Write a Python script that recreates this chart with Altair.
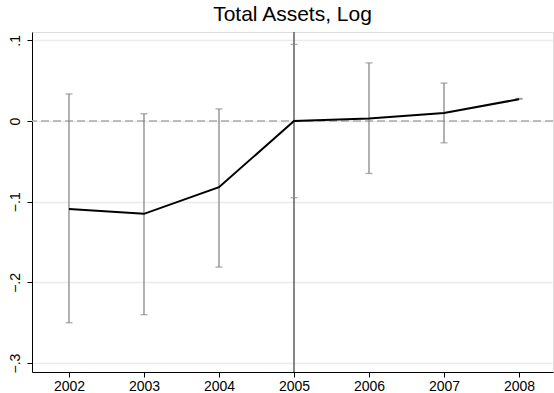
import altair as alt
import pandas as pd

# Event-study estimates for log total assets, with confidence bounds
years = [2002, 2003, 2004, 2005, 2006, 2007, 2008]
coef = [-0.109, -0.115, -0.082, 0.0, 0.003, 0.010, 0.027]
ci_low = [-0.250, -0.240, -0.181, -0.095, -0.065, -0.027, 0.027]
ci_high = [0.0335, 0.009, 0.015, 0.095, 0.072, 0.047, 0.028]
y_ticks = [-0.3, -0.2, -0.1, 0.0, 0.1]
event_year = 2005

df = pd.DataFrame({"year": years, "coef": coef, "lo": ci_low, "hi": ci_high})

FONT = "Liberation Sans"
x_scale = alt.Scale(domain=[2001.507, 2008.453], nice=False, zero=False)
y_scale = alt.Scale(domain=[-0.311, 0.1103], nice=False, zero=False)

x_axis = alt.Axis(values=years, format="d", title=None, grid=False,
                  domainColor="black", tickColor="black", tickSize=5,
                  labelFontSize=14, labelFont=FONT, labelColor="black",
                  labelPadding=2, labelFlush=False)
y_axis = alt.Axis(values=y_ticks, title=None, grid=True, gridColor="#ebebeb",
                  gridWidth=1.5, domainColor="black", tickColor="black",
                  tickSize=5, labelFontSize=14, labelFont=FONT,
                  labelColor="black", labelAngle=270, labelAlign="center",
                  labelBaseline="bottom", labelPadding=5,
                  labelExpr="datum.value == 0 ? '0' : replace(format(datum.value, '.1f'), '0.', '.')")

base = alt.Chart(df)

# empty layer carrying the axes
axes = base.mark_point(opacity=0).encode(
    x=alt.X("year:Q", scale=x_scale, axis=x_axis),
    y=alt.Y("coef:Q", scale=y_scale, axis=y_axis),
)

zero_line = alt.Chart(pd.DataFrame({"y": [0.0]})).mark_rule(
    color="#aaaaaa", strokeWidth=1.5, strokeDash=[8, 4]
).encode(y=alt.Y("y:Q", scale=y_scale))

event_line = alt.Chart(pd.DataFrame({"x": [event_year]})).mark_rule(
    color="#444444", strokeWidth=1.3
).encode(x=alt.X("x:Q", scale=x_scale))

bars = base.mark_rule(color="#888888", strokeWidth=1.3).encode(
    x=alt.X("year:Q", scale=x_scale),
    y=alt.Y("lo:Q", scale=y_scale),
    y2="hi:Q",
)

caps_hi = base.mark_tick(color="#888888", thickness=1.3, size=7, orient="horizontal").encode(
    x=alt.X("year:Q", scale=x_scale),
    y=alt.Y("hi:Q", scale=y_scale),
)
caps_lo = base.mark_tick(color="#888888", thickness=1.3, size=7, orient="horizontal").encode(
    x=alt.X("year:Q", scale=x_scale),
    y=alt.Y("lo:Q", scale=y_scale),
)

line = base.mark_line(color="black", strokeWidth=2).encode(
    x=alt.X("year:Q", scale=x_scale),
    y=alt.Y("coef:Q", scale=y_scale),
)

chart = alt.layer(axes, zero_line, event_line, bars, caps_hi, caps_lo, line).properties(
    width=521,
    height=340,
    title=alt.TitleParams("Total Assets, Log", font=FONT, fontSize=21,
                          fontWeight="normal", color="black", anchor="middle",
                          offset=6),
    autosize=alt.AutoSizeParams(type="none"),
    padding={"left": 32, "top": 32, "right": 1, "bottom": 21},
).configure_view(stroke=None).configure(background="white")

chart.save("out.html", embed_options={"renderer": "svg", "actions": False})
